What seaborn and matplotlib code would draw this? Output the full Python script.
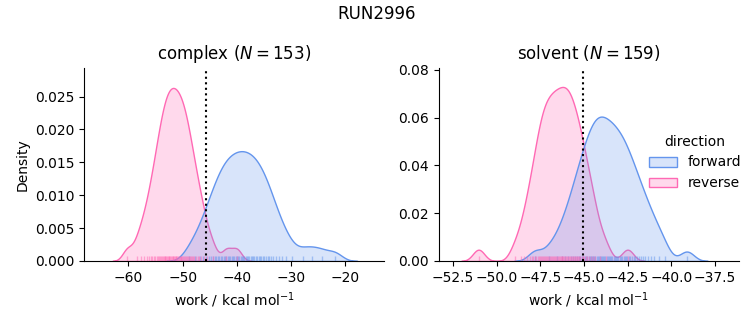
import numpy as np
import pandas as pd
import matplotlib
matplotlib.use("Agg")
import matplotlib.pyplot as plt
import seaborn as sns

# ---- data (work values in kcal/mol) ----
complex_forward = [
    -48.88, -47.62, -46.81, -46.19, -45.68, -45.21, -44.82, -44.46, -44.11, -43.80,
    -43.50, -43.20, -42.94, -42.68, -42.41, -42.15, -41.91, -41.66, -41.42, -41.17,
    -40.94, -40.69, -40.46, -40.22, -40.00, -39.76, -39.53, -39.30, -39.07, -38.83,
    -38.61, -38.37, -38.14, -37.91, -37.68, -37.44, -37.20, -36.96, -36.73, -36.47,
    -36.23, -35.97, -35.72, -35.46, -35.18, -34.91, -34.61, -34.29, -33.98, -33.62,
    -33.23, -32.82, -32.29, -31.69, -30.93, -29.81, -27.75, -26.10, -24.28, -21.88,
]
complex_reverse = [
    -60.19, -58.47, -57.67, -57.06, -56.60, -56.18, -55.87, -55.57, -55.27, -55.04,
    -54.82, -54.59, -54.37, -54.20, -54.03, -53.85, -53.68, -53.50, -53.34, -53.19,
    -53.04, -52.89, -52.74, -52.59, -52.44, -52.30, -52.16, -52.01, -51.86, -51.71,
    -51.57, -51.42, -51.28, -51.13, -50.98, -50.83, -50.68, -50.53, -50.38, -50.22,
    -50.07, -49.91, -49.76, -49.59, -49.42, -49.24, -49.07, -48.89, -48.72, -48.49,
    -48.26, -48.04, -47.82, -47.52, -47.22, -46.91, -46.52, -46.09, -45.47, -44.47,
    -41.90, -40.00,
]
solvent_forward = [
    -47.80, -47.00, -46.55, -46.28, -46.06, -45.91, -45.75, -45.61, -45.51, -45.41,
    -45.31, -45.20, -45.12, -45.04, -44.96, -44.88, -44.81, -44.73, -44.66, -44.59,
    -44.53, -44.46, -44.40, -44.34, -44.27, -44.21, -44.14, -44.09, -44.02, -43.95,
    -43.90, -43.83, -43.77, -43.70, -43.63, -43.57, -43.50, -43.44, -43.37, -43.30,
    -43.24, -43.16, -43.10, -43.02, -42.96, -42.88, -42.82, -42.73, -42.66, -42.58,
    -42.51, -42.42, -42.35, -42.25, -42.15, -42.05, -41.96, -41.86, -41.73, -41.60,
    -41.48, -41.32, -41.14, -40.96, -40.70, -40.37, -39.10,
]
solvent_reverse = [
    -51.04, -48.97, -48.58, -48.41, -48.24, -48.10, -48.00, -47.92, -47.82, -47.73,
    -47.64, -47.59, -47.52, -47.47, -47.40, -47.34, -47.28, -47.22, -47.16, -47.11,
    -47.05, -47.00, -46.94, -46.88, -46.83, -46.77, -46.71, -46.67, -46.61, -46.55,
    -46.50, -46.45, -46.39, -46.34, -46.28, -46.23, -46.18, -46.12, -46.07, -46.02,
    -45.97, -45.92, -45.86, -45.81, -45.76, -45.70, -45.64, -45.59, -45.52, -45.46,
    -45.41, -45.35, -45.29, -45.21, -45.13, -45.06, -44.98, -44.91, -44.82, -44.70,
    -44.59, -44.48, -44.35, -44.10, -43.74, -42.50,
]

phases = ["complex", "solvent"]
directions = ["forward", "reverse"]
n_counts = {"complex": 153, "solvent": 159}
dg_estimates = {"complex": -45.7, "solvent": -45.05}
suptitle = "RUN2996"

frames = []
for phase, direction, values in [
    ("complex", "forward", complex_forward),
    ("complex", "reverse", complex_reverse),
    ("solvent", "forward", solvent_forward),
    ("solvent", "reverse", solvent_reverse),
]:
    frames.append(pd.DataFrame({"phase": phase, "direction": direction, "work": values}))
df = pd.concat(frames, ignore_index=True)

palette = {"forward": "cornflowerblue", "reverse": "hotpink"}

g = sns.displot(
    data=df, x="work", hue="direction", col="phase",
    kind="kde", fill=True, rug=True, bw_adjust=0.55,
    hue_order=directions, col_order=phases, palette=palette,
    rug_kws=dict(alpha=0.5, linewidth=1),
    facet_kws=dict(sharex=False, sharey=False),
    height=3, aspect=1.2,
)

fig = g.figure
fig.set_size_inches(7.53, 3.25)
fig.subplots_adjust(left=0.1116, right=0.981, bottom=0.197, top=0.792, wspace=0.183)

xlims = {"complex": (-68.2, -12.83), "solvent": (-53.32, -36.13)}
ylims = {"complex": (0, 0.0294), "solvent": (0, 0.081)}

for ax, phase in zip(g.axes.flat, phases):
    ax.axvline(dg_estimates[phase], color="black", linestyle=":", linewidth=1.5)
    ax.set_title(f"{phase} ($N={n_counts[phase]}$)", fontsize=12)
    ax.set_xlabel("work / kcal mol$^{-1}$")
    ax.set_xlim(*xlims[phase])
    ax.set_ylim(*ylims[phase])
g.axes.flat[0].set_ylabel("Density")
g.axes.flat[1].set_ylabel("")

sns.move_legend(g, "center left", bbox_to_anchor=(0.845, 0.5), frameon=False)
fig.suptitle(suptitle, fontsize=12, y=0.985)

fig.savefig("out.png", dpi=100)
